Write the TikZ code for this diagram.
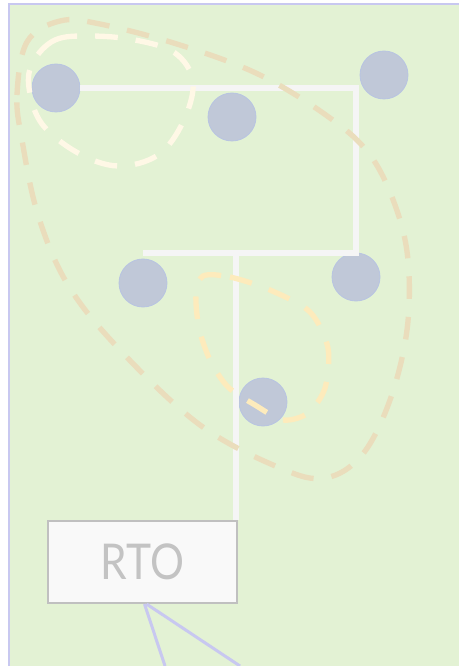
\documentclass[tikz,border=0pt]{standalone}
\usepackage{fontspec}
\setsansfont{Lato}
\newfontfamily\rtofont{Lato}[FakeStretch=0.86]
\definecolor{prato}{HTML}{E3F2D4}
\definecolor{lilla}{HTML}{C8C8F0}
\definecolor{nodo}{HTML}{C0C8D8}
\definecolor{nodobordo}{HTML}{B8C4E2}
\definecolor{ramobianco}{HTML}{F5F5F5}
\definecolor{sabbia}{HTML}{EADDBC}
\definecolor{crema}{HTML}{FFF8E6}
\definecolor{giallino}{HTML}{FDEBBC}
\definecolor{grigino}{HTML}{C0C0C0}
\begin{document}
\begin{tikzpicture}[x=0.75pt, y=-0.75pt,
		sfondo/.style={fill=prato, draw=lilla, line width=2pt},
		foglia/.style={circle, fill=nodo, draw=nodobordo, line width=0.6pt, minimum size=36pt, inner sep=0pt},
		ramo/.style={line width=4pt, draw=ramobianco},
		gruppo/.style={line width=4pt, dash pattern=on 17pt off 13.5pt},
		scatola/.style={draw=grigino, fill=ramobianco!60!white, line width=1.5pt, minimum width=141.75pt, minimum height=61.5pt, inner sep=0pt, text=grigino!95!white, font=\rtofont\fontsize{37}{40}\selectfont},
		filo/.style={line width=2.25pt, draw=lilla},
		]
		
		\useasboundingbox (0,0) rectangle (459,666);
		\clip (0,0) rectangle (459,666);
		
		% fondo
		\draw[sfondo] (9,4) rectangle (480,690);
		
		% foglie
		\node[foglia] (f1) at (56,88) {};
		\node[foglia] (f2) at (232,117) {};
		\node[foglia] (f3) at (384,75) {};
		\node[foglia] (f4) at (143,283) {};
		\node[foglia] (f5) at (356,277) {};
		\node[foglia] (f6) at (263,402) {};
		
		% radice
		\node[scatola] (rto) at (142.5,562) {RTO};
		
		% rami
		\coordinate (ga) at (356,88);
		\coordinate (gb) at (356,253);
		\coordinate (gc) at (143,253);
		\coordinate (gd) at (236,253);
		\draw[ramo] (f1.east) -- (ga) -- (gb) -- (gc);
		\draw[ramo] (gd) -- (gd |- rto.north);
		
		% fili verso il basso
		\coordinate (fa) at (165,666);
		\coordinate (fb) at (240,666);
		\draw[filo] ([xshift=1.5pt]rto.south) -- (fa);
		\draw[filo] ([xshift=3pt]rto.south) -- (fb);
		
		% gruppi tratteggiati
		\draw[gruppo, sabbia] plot[smooth cycle, tension=0.6] coordinates {
			(22,140) (17,95) (27,42) (60,21) (100,24) (180,45) (260,75) (330,118) (370,155)
			(395,205) (408,260) (407,330) (390,400) (362,455) (325,478) (280,468) (200,425)
			(120,350) (68,285) (38,215)};
		\draw[gruppo, crema] plot[smooth cycle, tension=0.6] coordinates {
			(33,62) (55,40) (90,36) (135,40) (175,53) (193,82) (183,122) (158,155) (118,166)
			(78,153) (42,124) (29,88)};
		\draw[gruppo, giallino] plot[smooth cycle, tension=0.5] coordinates {
			(203,276) (230,277) (270,290) (310,312) (328,348) (325,388) (308,413) (283,420)
			(255,405) (228,387) (210,360) (199,328) (196,295)};
		
	\end{tikzpicture}
\end{document}
